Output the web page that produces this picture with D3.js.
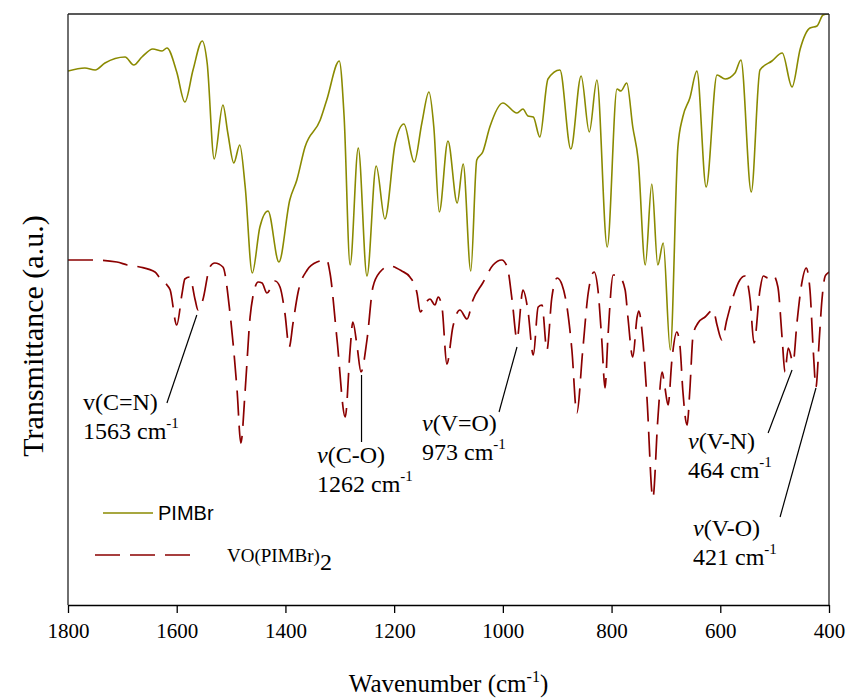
<!DOCTYPE html>
<html>
<head>
<meta charset="utf-8">
<script src="https://cdn.jsdelivr.net/npm/d3@7/dist/d3.min.js"></script>
<style>
  html, body { margin: 0; padding: 0; background: #fff; }
  svg { display: block; }
  .serif { font-family: "Liberation Serif", "Times New Roman", serif; }
  .sans { font-family: "Liberation Sans", Arial, sans-serif; }
</style>
</head>
<body>
<svg id="chart" width="849" height="700"></svg>
<script>
// ---------------- DATA ----------------
// x-axis ticks (wavenumber, cm-1)
const xTicks = [1800, 1600, 1400, 1200, 1000, 800, 600, 400];

// PIMBr spectrum: [wavenumber (cm-1), transmittance (a.u., offset)]
const pimbr = [
  [1800,534],[1769,537],[1750,535],[1732,542],[1695,548],[1679,540],[1664,548],[1644,556],
  [1627,554],[1618,557],[1600,533],[1585,503],[1570,535],[1553,564],[1544,542],[1531,446],
  [1515,500],[1506,472],[1495,442],[1484,460],[1474,418],[1461,332],[1447,378],[1432,394],
  [1412,343],[1392,405],[1379,425],[1364,458],[1336,485],[1324,505],[1301,544],[1292,488],
  [1281,340],[1266,457],[1250,329],[1233,439],[1217,386],[1198,462],[1182,481],[1163,443],
  [1149,482],[1136,513],[1127,478],[1117,393],[1101,464],[1084,402],[1073,441],[1059,334],
  [1048,445],[1037,453],[1024,478],[1000,502],[974,492],[963,496],[954,489],[944,488],
  [932,468],[917,526],[895,535],[875,456],[856,529],[841,473],[827,525],[808,358],
  [790,516],[783,514],[772,522],[761,478],[751,445],[738,340],[726,421],[715,340],
  [705,362],[692,255],[678,458],[669,488],[656,507],[643,534],[626,418],[606,530],
  [591,526],[573,532],[562,545],[543,413],[527,535],[505,544],[486,552],[468,518],
  [453,556],[435,577],[422,579],[411,590],[402,591],[400,591]
];

// VO(PIMBr)2 spectrum: [wavenumber (cm-1), transmittance (a.u., offset)]
const voPimbr2 = [
  [1800,345],[1754,345],[1710,343],[1691,340],[1668,338],[1640,333],[1631,327],[1618,320],
  [1612,315],[1600,280],[1590,312],[1585,326],[1576,328],[1566,305],[1561,295],[1552,305],
  [1539,338],[1530,342],[1515,338],[1502,292],[1489,215],[1482,162],[1474,215],[1465,288],
  [1460,308],[1450,323],[1443,322],[1434,312],[1419,324],[1410,318],[1401,292],[1393,258],
  [1386,282],[1377,312],[1360,335],[1342,343],[1324,345],[1318,332],[1305,265],[1290,188],
  [1281,255],[1276,283],[1268,258],[1261,233],[1250,265],[1239,318],[1226,333],[1208,339],
  [1186,334],[1171,328],[1158,312],[1152,293],[1141,303],[1134,306],[1125,300],[1119,308],
  [1112,298],[1103,241],[1092,278],[1079,295],[1066,286],[1055,305],[1037,322],[1018,340],
  [1002,345],[992,338],[983,305],[974,266],[963,315],[954,295],[944,250],[935,298],
  [928,300],[919,255],[910,307],[900,327],[891,320],[882,298],[873,255],[864,192],
  [853,255],[843,312],[832,333],[825,315],[818,265],[812,217],[807,265],[797,330],
  [785,328],[775,315],[770,288],[761,248],[753,288],[750,294],[742,262],[735,208],
  [724,107],[715,185],[707,233],[702,218],[696,200],[689,245],[680,273],[674,258],
  [669,215],[661,180],[656,215],[650,270],[641,282],[628,288],[613,295],[606,280],
  [597,265],[588,285],[577,307],[564,325],[555,329],[545,305],[538,262],[527,315],
  [521,329],[512,327],[503,330],[494,318],[486,265],[481,233],[475,257],[466,243],
  [459,282],[450,322],[442,337],[435,315],[429,255],[424,218],[418,265],[413,305],
  [407,329],[402,332],[400,333]
];

// Band assignments (leader line from label point -> band point, in data units)
const bandNames  = ["v(C=N)", "v(C-O)", "v(V=O)", "v(V-N)", "v(V-O)"];
const bandWaves  = ["1563", "1262", "973", "464", "421"];
const bandItalic = [false, true, true, true, true];
const leaderFrom = [[1618,202], [1260,163], [1007,193], [512,172], [490,88]];
const leaderTo   = [[1563,290], [1260,230], [974,258], [468,235], [424,217]];
// label layout (pixels): left x, first baseline
const labelPos   = [[83,410], [317,463], [422,431], [688,449], [693,536]];

const seriesNames = ["PIMBr", "VO(PIMBr)"];

// ---------------- CHART ----------------
const svg = d3.select("#chart");
const L = 68, R = 829, T = 14, B = 605;
const olive = "#8a8a00", red = "#8b0000";

const x = d3.scaleLinear().domain([1800, 400]).range([L, R]);
const y = d3.scaleLinear().domain([0, 591]).range([B, T]);

svg.append("defs").append("clipPath").attr("id", "clip")
  .append("rect").attr("x", L).attr("y", T).attr("width", R - L).attr("height", B - T);

const line = d3.line().x(d => x(d[0])).y(d => y(d[1])).curve(d3.curveMonotoneX);

const g = svg.append("g").attr("clip-path", "url(#clip)");
g.append("path").datum(voPimbr2).attr("d", line)
  .attr("fill", "none").attr("stroke", red).attr("stroke-width", 1.7)
  .attr("stroke-dasharray", "25,10");
g.append("path").datum(pimbr).attr("d", line)
  .attr("fill", "none").attr("stroke", olive).attr("stroke-width", 1.6);

// frame
svg.append("line").attr("x1", L).attr("x2", R).attr("y1", T).attr("y2", T)
  .attr("stroke", "#222").attr("stroke-width", 1.3);
svg.append("line").attr("x1", L).attr("x2", L).attr("y1", T).attr("y2", B)
  .attr("stroke", "#222").attr("stroke-width", 1.3);
svg.append("line").attr("x1", R).attr("x2", R).attr("y1", T).attr("y2", B)
  .attr("stroke", "#222").attr("stroke-width", 1.3);

// x axis
const xAxis = svg.append("g").attr("transform", `translate(0,${B})`)
  .call(d3.axisBottom(x).tickValues(xTicks).tickFormat(d3.format("d"))
    .tickSize(8).tickPadding(10).tickSizeOuter(0));
xAxis.attr("font-family", null).attr("font-size", null);
xAxis.select(".domain").attr("stroke", "#000").attr("stroke-width", 1.5);
xAxis.selectAll(".tick line").attr("stroke", "#000").attr("stroke-width", 1.3);
xAxis.selectAll(".tick text").attr("class", "serif").style("font-size", "21px").attr("fill", "#000");

// axis titles
const xt = svg.append("text").attr("class", "serif").attr("x", (L + R) / 2).attr("y", 692)
  .attr("text-anchor", "middle").style("font-size", "25px").attr("fill", "#000");
xt.append("tspan").text("Wavenumber (cm");
xt.append("tspan").style("font-size", "16px").attr("dy", -10).text("-1");
xt.append("tspan").attr("dy", 10).text(")");

svg.append("text").attr("class", "serif").attr("transform", `translate(43,336) rotate(-90)`)
  .attr("text-anchor", "middle").style("font-size", "30px").attr("fill", "#000")
  .text("Transmittance (a.u.)");

// band annotations
bandNames.forEach((name, i) => {
  svg.append("line")
    .attr("x1", x(leaderFrom[i][0])).attr("y1", y(leaderFrom[i][1]))
    .attr("x2", x(leaderTo[i][0])).attr("y2", y(leaderTo[i][1]))
    .attr("stroke", "#000").attr("stroke-width", 1.2);
  const [lx, ly] = labelPos[i];
  const t1 = svg.append("text").attr("class", "serif").attr("x", lx).attr("y", ly)
    .style("font-size", "24px").attr("fill", "#000");
  t1.append("tspan").style("font-style", bandItalic[i] ? "italic" : "normal").text(name.slice(0, 1));
  t1.append("tspan").text(name.slice(1));
  const t2 = svg.append("text").attr("class", "serif").attr("x", lx).attr("y", ly + 29)
    .style("font-size", "24px").attr("fill", "#000");
  t2.append("tspan").text(bandWaves[i] + " cm");
  t2.append("tspan").style("font-size", "15px").attr("dy", -11).text("-1");
});

// legend
svg.append("line").attr("x1", 103).attr("x2", 153).attr("y1", 513).attr("y2", 513)
  .attr("stroke", olive).attr("stroke-width", 1.6);
svg.append("text").attr("class", "sans").attr("x", 158).attr("y", 520)
  .style("font-size", "20px").attr("fill", "#000").text(seriesNames[0]);
svg.append("line").attr("x1", 95).attr("x2", 190).attr("y1", 555).attr("y2", 555)
  .attr("stroke", red).attr("stroke-width", 1.7).attr("stroke-dasharray", "25,10");
const lt = svg.append("text").attr("class", "serif").attr("x", 227).attr("y", 562)
  .style("font-size", "19px").attr("fill", "#000");
lt.append("tspan").text(seriesNames[1]);
lt.append("tspan").style("font-size", "24px").attr("dy", 8).text("2");
</script>
</body>
</html>
